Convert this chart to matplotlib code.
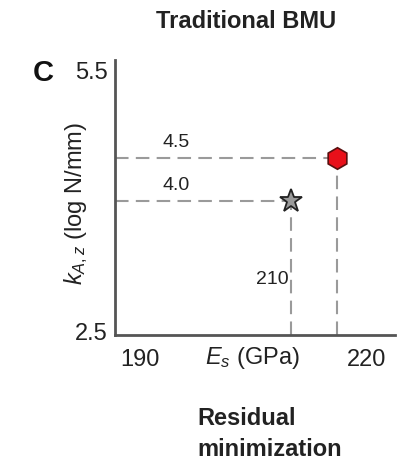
import matplotlib.pyplot as plt

plt.rcParams['font.family'] = ['Liberation Sans', 'DejaVu Sans']
plt.rcParams['mathtext.fontset'] = 'custom'
plt.rcParams['mathtext.rm'] = 'Liberation Sans'
plt.rcParams['mathtext.it'] = 'Liberation Sans:italic'

# values
ytick_vals = [2.5, 5.5]
xtick_vals = [190, 220]
star_pt = (210, 4.0)      # grey star
hex_pt = (216, 4.5)       # red hexagon
y_labels = ['4.0', '4.5']

fig = plt.figure(figsize=(4.11, 4.61), dpi=100)
W, H = 411, 461
# axes box in pixels: left 115, right 395, top 60, bottom 335
ax = fig.add_axes([115 / W, 1 - 335 / H, 280 / W, 275 / H])

x0, x1 = 186.7, 223.7
y0, y1 = 2.465, 5.625
ax.set_xlim(x0, x1)
ax.set_ylim(y0, y1)

dash = dict(color='#9a9a9a', lw=1.5, ls=(0, (6.5, 3.5)))
for (px, py) in [star_pt, hex_pt]:
    ax.plot([x0, px], [py, py], **dash, zorder=1)
    ax.plot([px, px], [y0, py], **dash, zorder=1)

ax.plot(*hex_pt, marker='h', ms=15.5, mfc='#e8101a', mec='#5a1010', mew=1.2, zorder=3)
ax.plot(*star_pt, marker='*', ms=17, mfc='#9a9a9a', mec='#222222', mew=1.3, zorder=3)

ax.text(193, 4.5 + 0.08, y_labels[1], fontsize=14, color='#222', ha='left', va='bottom')
ax.text(193, 4.0 + 0.08, y_labels[0], fontsize=14, color='#222', ha='left', va='bottom')
ax.text(star_pt[0] - 0.4, 3.1, '210', fontsize=14, color='#222', ha='right', va='center')

for s in ['top', 'right']:
    ax.spines[s].set_visible(False)
for s in ['left', 'bottom']:
    ax.spines[s].set_color('#555555')
    ax.spines[s].set_linewidth(2)

ax.set_xticks(xtick_vals)
ax.set_xticklabels([str(v) for v in xtick_vals])
ax.set_yticks(ytick_vals)
ax.set_yticklabels([str(v) for v in ytick_vals])
ax.tick_params(length=0, labelsize=17, colors='#222')
ax.tick_params(axis='x', pad=10)
ax.tick_params(axis='y', pad=5)

fig.text(252 / W, 1 - 358 / H, r'$E_s$ (GPa)', fontsize=17, color='#222',
         ha='center', va='center')
fig.text(76 / W, 1 - 203 / H, r'$k_{A,z}$ (log N/mm)', fontsize=17, color='#222',
         ha='center', va='center', rotation=90)
fig.text(246 / W, 1 - 22 / H, 'Traditional BMU', fontsize=17, fontweight='bold',
         color='#222', ha='center', va='center')
fig.text(43 / W, 1 - 73 / H, 'C', fontsize=21, fontweight='bold',
         color='#111', ha='center', va='center')
fig.text(197 / W, 1 - 434 / H, 'Residual\nminimization', fontsize=17,
         fontweight='bold', color='#222', ha='left', va='center', linespacing=1.4)

fig.savefig('out.png', dpi=100)
